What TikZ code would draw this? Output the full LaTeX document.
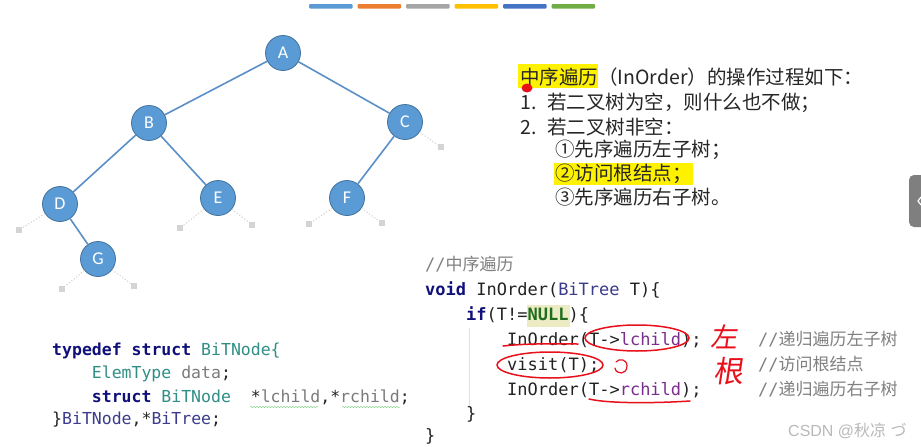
\documentclass[tikz,border=0pt]{standalone}
\usepackage{fontspec}
\setsansfont{Liberation Sans}
\setmonofont{DejaVu Sans Mono}
\newfontfamily\cjk{Noto Sans CJK SC}
\newfontfamily\treefont{Carlito}
\usepackage{tikz}
\usetikzlibrary{positioning,decorations.pathmorphing}
\usepackage{xcolor}
\definecolor{nodeblue}{HTML}{5B9BD5}
\definecolor{nodeborder}{HTML}{41719C}
\definecolor{edgeblue}{HTML}{5A8FC8}
\definecolor{nullgray}{HTML}{D4D4D4}
\definecolor{kwnavy}{HTML}{10107A}
\definecolor{typeteal}{HTML}{2F8F86}
\definecolor{typepurple}{HTML}{3C3C8C}
\definecolor{fieldpurple}{HTML}{7B2D8E}
\definecolor{nullgreen}{HTML}{1E6E1E}
\definecolor{nullbg}{HTML}{EDEBC4}
\definecolor{commentgray}{HTML}{808080}
\definecolor{datagray}{HTML}{7A7A7A}
\definecolor{codeblack}{HTML}{222222}
\definecolor{inkred}{HTML}{E8101A}
\definecolor{tabgray}{HTML}{7F7F7F}
\definecolor{barblue}{HTML}{5B9BD5}
\definecolor{barorange}{HTML}{ED7D31}
\definecolor{bargray}{HTML}{A5A5A5}
\definecolor{baryellow}{HTML}{FFC000}
\definecolor{bardarkblue}{HTML}{4472C4}
\definecolor{bargreen}{HTML}{70AD47}
\newcommand\zh[1]{{\cjk #1}}
\newcommand\kw[1]{\textcolor{kwnavy}{\bfseries #1}}
\newcommand\typ[1]{\textcolor{typeteal}{#1}}
\newcommand\tyq[1]{\textcolor{typepurple}{#1}}
\newcommand\fld[1]{\textcolor{fieldpurple}{#1}}

\begin{document}
\begin{tikzpicture}[
  x=1pt, y=-1pt,
  treenode/.style={
    circle,
    draw=nodeborder,
    fill=nodeblue,
    line width=0.8pt,
    minimum size=35pt,
    inner sep=0pt,
    text=white,
    font=\treefont\fontsize{18}{18}\selectfont
  },
  treeedge/.style={
    draw=edgeblue,
    line width=1.6pt
  },
  nulledge/.style={
    draw=nullgray,
    dotted,
    line width=1.1pt
  },
  nullbox/.style={
    rectangle,
    fill=nullgray,
    minimum size=6pt,
    inner sep=0pt
  },
  cntext/.style={
    anchor=base west,
    inner sep=0pt,
    text=black!85,
    font=\cjk\fontsize{19.5}{19.5}\selectfont
  },
  codeline/.style={
    anchor=base west,
    inner sep=0pt,
    text=codeblack,
    font=\ttfamily\fontsize{17}{17}\selectfont
  },
  structline/.style={
    codeline,
    font=\ttfamily\fontsize{16.5}{16.5}\selectfont
  },
  squiggle/.style={
    draw=green!45!gray!60,
    line width=0.5pt,
    decorate,
    decoration={snake, amplitude=0.7pt, segment length=3pt}
  },
  inkline/.style={
    draw=inkred,
    line width=1.5pt,
    line cap=round
  },
  inktext/.style={
    inner sep=0pt,
    text=inkred,
    xslant=0.15,
    font=\cjk\fontsize{27}{27}\selectfont
  }
]

  % Page frame
  \useasboundingbox (0,0) rectangle (921,447);
  \fill[white] (0,0) rectangle (921,447);

  % --- Colour bars at the top ---
  \foreach \c [count=\i from 0] in {barblue,barorange,bargray,baryellow,bardarkblue,bargreen}
    \fill[\c, rounded corners=1pt] ({309+48.5*\i},4) rectangle ++(43.5,4.5);

  % --- Binary tree ---
  \node[treenode] (nA) at (283,53) {A};
  \node[treenode] (nB) at (149,123) {B};
  \node[treenode] (nC) at (405,122) {C};
  \node[treenode] (nD) at (60,204) {D};
  \node[treenode] (nE) at (218,198) {E};
  \node[treenode] (nF) at (347,198) {F};
  \node[treenode] (nG) at (98,259) {G};

  \draw[treeedge] (nA) -- (nB);
  \draw[treeedge] (nA) -- (nC);
  \draw[treeedge] (nB) -- (nD);
  \draw[treeedge] (nB) -- (nE);
  \draw[treeedge] (nC) -- (nF);
  \draw[treeedge] (nD) -- (nG);

  % empty subtrees
  \node[nullbox] (zC) at (441,147) {};
  \node[nullbox] (zD) at (19,230) {};
  \node[nullbox] (zEl) at (180,228) {};
  \node[nullbox] (zEr) at (252,225) {};
  \node[nullbox] (zFl) at (309,224) {};
  \node[nullbox] (zFr) at (382,223) {};
  \node[nullbox] (zGl) at (62,289) {};
  \node[nullbox] (zGr) at (134,286) {};

  \draw[nulledge] (nC) -- (zC);
  \draw[nulledge] (nD) -- (zD);
  \draw[nulledge] (nE) -- (zEl);
  \draw[nulledge] (nE) -- (zEr);
  \draw[nulledge] (nF) -- (zFl);
  \draw[nulledge] (nF) -- (zFr);
  \draw[nulledge] (nG) -- (zGl);
  \draw[nulledge] (nG) -- (zGr);

  % --- In-order steps (top right) ---
  \fill[yellow] (518,64) rectangle (598,88);
  \fill[yellow] (554,163) rectangle (693,185);

  \node[cntext] (title) at (520,84) {中序遍历（InOrder）的操作过程如下：};
  \node[cntext, below=25pt of title.base west, anchor=base west] (item1) {\makebox[27pt][l]{1.}若二叉树为空，则什么也不做；};
  \node[cntext, below=25pt of item1.base west, anchor=base west] (item2) {\makebox[27pt][l]{2.}若二叉树非空：};
  \node[cntext, below=22pt of item2.base west, anchor=base west, xshift=35pt] (sub1) {①先序遍历左子树；};
  \node[cntext, below=24pt of sub1.base west, anchor=base west] (sub2) {②访问根结点；};
  \node[cntext, below=24pt of sub2.base west, anchor=base west] (sub3) {③先序遍历右子树。};

  \fill[inkred] (527,88) ellipse [x radius=5.5, y radius=4.5];

  % --- InOrder listing ---
  \fill[nullbg] (527,305) rectangle (570,327);
  \draw[gray!25, line width=0.8pt] (469,328) -- (469,406);

  \node[codeline, text=commentgray] (cmt) at (425,270) {//\zh{中序遍历}};
  \node[codeline, below=25pt of cmt.base west, anchor=base west] (fn) {\kw{void} InOrder(\tyq{BiTree} T)\{};
  \node[codeline, below=25pt of fn.base west, anchor=base west, xshift=41pt] (cond) {\kw{if}(T!=\textcolor{nullgreen}{\bfseries NULL})\{};
  \node[codeline, below=25pt of cond.base west, anchor=base west, xshift=41pt] (callL) {InOrder(T->\fld{lchild});};
  \node[codeline, below=25pt of callL.base west, anchor=base west] (visit) {visit(T);};
  \node[codeline, below=25pt of visit.base west, anchor=base west] (callR) {InOrder(T->\fld{rchild});};
  \node[codeline, below=24pt of callR.base west, anchor=base west, xshift=-41pt] (endif) {\}};
  \node[codeline, below=22pt of endif.base west, anchor=base west, xshift=-41pt] (endfn) {\}};

  \node[codeline, text=commentgray] (cmtL) at (758,345) {//\zh{递归遍历左子树}};
  \node[codeline, text=commentgray, below=25pt of cmtL.base west, anchor=base west] (cmtV) {//\zh{访问根结点}};
  \node[codeline, text=commentgray, below=25pt of cmtV.base west, anchor=base west] (cmtR) {//\zh{递归遍历右子树}};

  % --- Struct definition ---
  \node[structline] (tdef) at (52,355) {\kw{typedef} \kw{struct} \typ{BiTNode\{}};
  \node[structline, below=23pt of tdef.base west, anchor=base west, xshift=39.7pt] (tdata) {\typ{ElemType} \textcolor{datagray}{data};};
  \node[structline, below=24pt of tdata.base west, anchor=base west] (tptr) {\kw{struct} \typ{BiTNode}\ \ *\textcolor{datagray}{lchild},*\textcolor{datagray}{rchild};};
  \node[structline, below=22pt of tptr.base west, anchor=base west, xshift=-39.7pt] (tend) {\}\tyq{BiTNode},*\tyq{BiTree};};

  \draw[squiggle] (250,407) -- (318,407);
  \draw[squiggle] (342,407) -- (400,407);

  % --- Red pen marks ---
  \draw[inkline] (503,346) .. controls (530,343) and (560,344) .. (578,344);
  \draw[inkline] (637,338) ellipse [x radius=52, y radius=13];
  \draw[inkline] (550,365) ellipse [x radius=53, y radius=13];
  \draw[inkline] (589,399) .. controls (610,404) and (660,403) .. (690,401);
  \draw[inkline, line width=1.2pt] (615,368) .. controls (616,375) and (627,375) .. (627,366) .. controls (627,359) and (619,358) .. (616,362);
  \node[inktext] (hZuo) at (726,337) {左};
  \node[inktext, font=\cjk\fontsize{30}{30}\selectfont] (hGen) at (730,371) {根};

  % Watermark and player tab
  \node[anchor=west, inner sep=0pt, text=gray!55, font=\sffamily\fontsize{16}{16}\selectfont] (wm) at (788,431) {CSDN @\zh{秋凉} \zh{づ}};
  \fill[tabgray, rounded corners=5pt] (909,175) rectangle (935,227);
  \draw[white, line width=1.2pt] (921,197) -- (918,201) -- (921,205);

\end{tikzpicture}
\end{document}
